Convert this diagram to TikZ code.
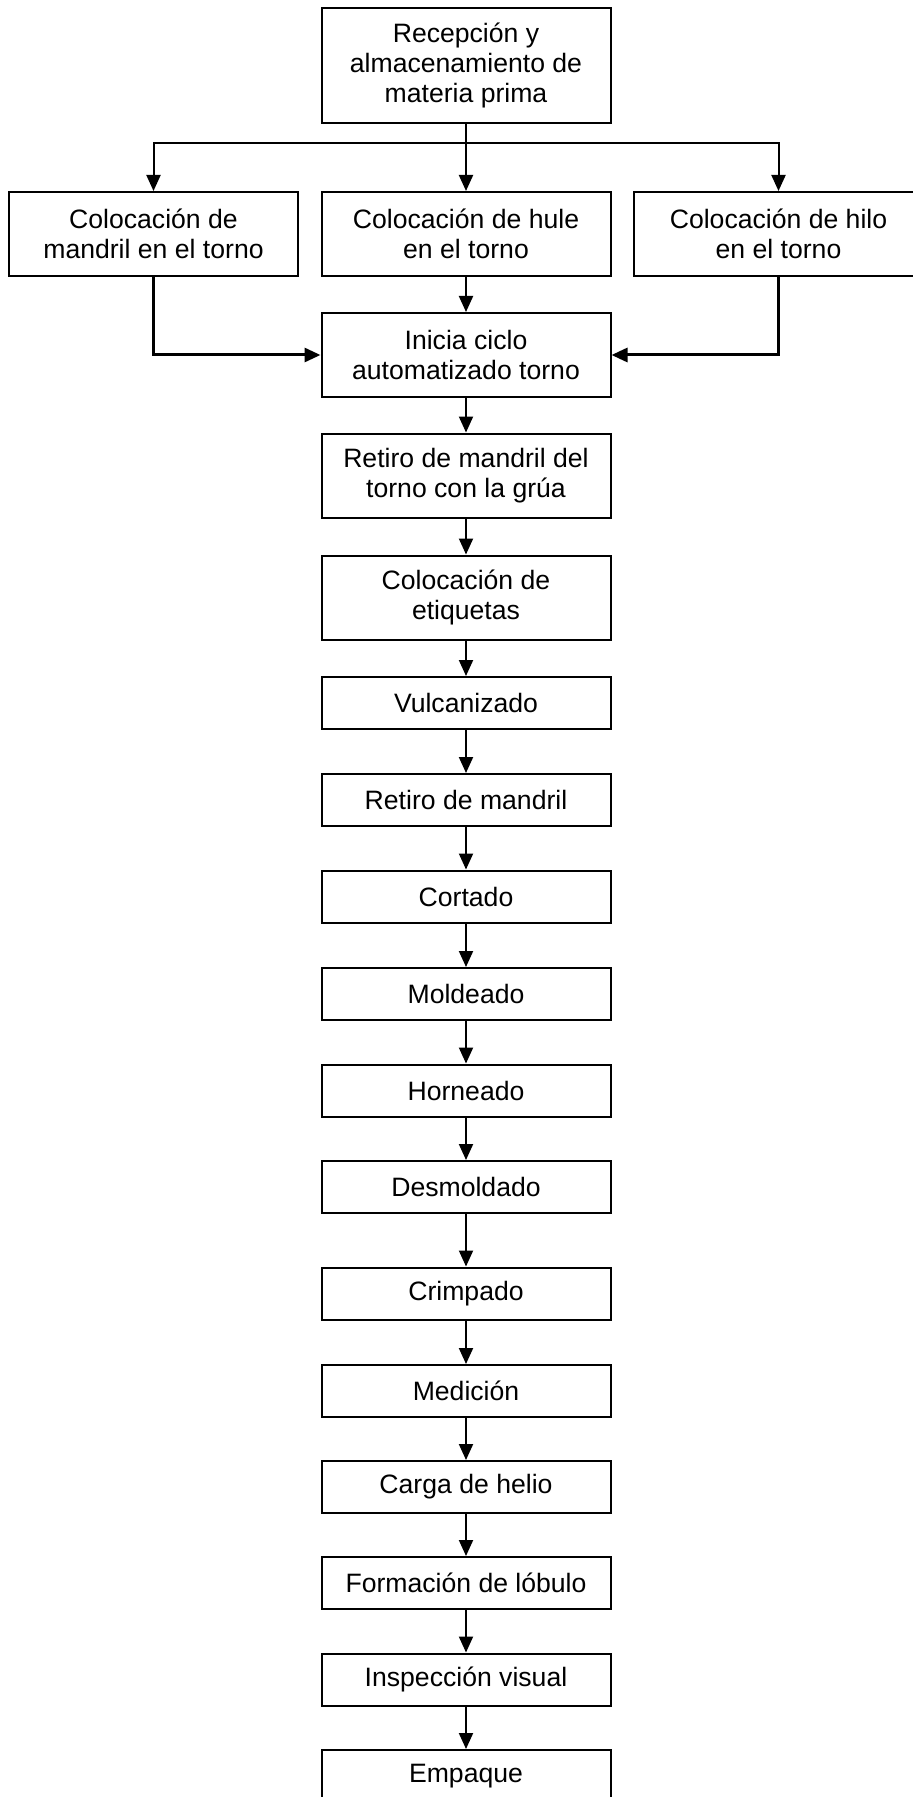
\documentclass[tikz,border=0pt]{standalone}
\usepackage{fontspec}
\setmainfont{Liberation Sans}
\usetikzlibrary{arrows.meta}

\begin{document}
\begin{tikzpicture}[x=0.5pt, y=-0.5pt, line width=1pt,
  >={Triangle[length=8pt, width=7pt]},
  every node/.style = {shape=rectangle, draw, align=center,
    minimum width=144.5pt, font=\fontsize{13.3}{15}\selectfont},
  one/.style = {minimum height=26pt},
  two/.style = {minimum height=42pt},
  side/.style = {line width=1.5pt}]

  \useasboundingbox (0,0) rectangle (912,1797);

  \node[minimum height=57.5pt] (recep) at (466,65.5)
    {Recepción y\\almacenamiento de\\materia prima};

  \node[two] (mandril) at (153.5,234) {Colocación de\\mandril en el torno};
  \node[two] (hule) at (466,234) {Colocación de hule\\en el torno};
  \node[two] (hilo) at (778.5,234) {Colocación de hilo\\en el torno};

  \node[two] (inicia) at (466,355) {Inicia ciclo\\automatizado torno};
  \node[two] (grua) at (466,475.5) {Retiro de mandril del\\torno con la grúa};
  \node[two] (etiq) at (466,597.5) {Colocación de\\etiquetas};
  \node[one] (vulc) at (466,703) {Vulcanizado};
  \node[one] (retiro) at (466,800) {Retiro de mandril};
  \node[one] (cort) at (466,896.5) {Cortado};
  \node[one] (mold) at (466,994) {Moldeado};
  \node[one] (horn) at (466,1090.5) {Horneado};
  \node[one] (desm) at (466,1187) {Desmoldado};
  \node[one] (crimp) at (466,1293.5) {Crimpado};
  \node[one] (med) at (466,1391) {Medición};
  \node[one] (helio) at (466,1487) {Carga de helio};
  \node[one] (lob) at (466,1583) {Formación de lóbulo};
  \node[one] (insp) at (466,1679.5) {Inspección visual};
  \node[one] (emp) at (466,1776) {Empaque};

  % reparto hacia el torno
  \coordinate (split) at (466,143);
  \draw (recep) -- (split);
  \draw[->] (split) -| (mandril);
  \draw[->] (split) -| (hilo);
  \draw[->] (split) -- (hule);

  % entradas al ciclo
  \draw[->] (hule) -- (inicia);
  \draw[->, side] (mandril) |- (inicia);
  \draw[->, side] (hilo) |- (inicia);

  \draw[->] (inicia) -- (grua);
  \draw[->] (grua) -- (etiq);
  \draw[->] (etiq) -- (vulc);
  \draw[->] (vulc) -- (retiro);
  \draw[->] (retiro) -- (cort);
  \draw[->] (cort) -- (mold);
  \draw[->] (mold) -- (horn);
  \draw[->] (horn) -- (desm);
  \draw[->] (desm) -- (crimp);
  \draw[->] (crimp) -- (med);
  \draw[->] (med) -- (helio);
  \draw[->] (helio) -- (lob);
  \draw[->] (lob) -- (insp);
  \draw[->] (insp) -- (emp);
\end{tikzpicture}
\end{document}
